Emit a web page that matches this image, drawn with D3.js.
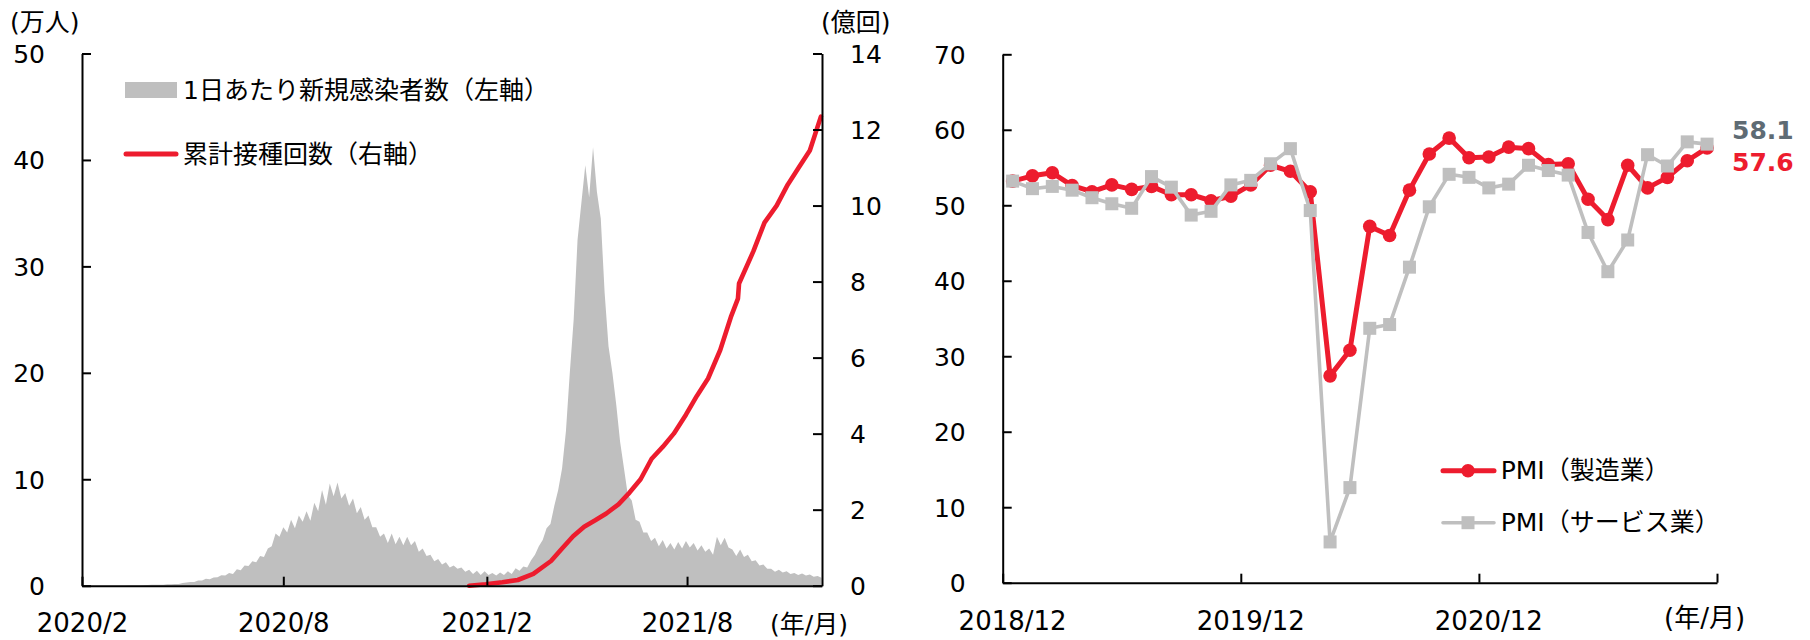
<!DOCTYPE html>
<html><head><meta charset="utf-8">
<script src="https://cdn.jsdelivr.net/npm/d3@7"></script>
<style>
body{margin:0;background:#fff}
svg{display:block}
text{font-family:"DejaVu Sans","Noto Sans CJK JP",sans-serif;font-size:25px;fill:#000}
text.xl{font-size:26px}
</style>
</head><body>
<svg id="c" width="1810" height="640"></svg>
<script>
// ---------- Left panel data ----------
// daily new cases (万人), half-week samples (peak / dip alternating), starting 2020-02-01, every 3.5 days
const caseStart = "2020-02-01";
const caseStepHours = 84;
const newCases = [
  0,0, 0,0, 0,0, 0,0, 0,0, 0,0, 0.01,0.01, 0.03,0.03,
  0.05,0.06, 0.08,0.09, 0.1,0.1, 0.13,0.13, 0.17,0.16, 0.25,0.3, 0.35,0.35, 0.48,0.5,
  0.65,0.6, 0.78,0.8, 0.98,0.95, 1.2,1.1, 1.55,1.45, 1.9,1.85, 2.3,2.2, 2.8,2.7,
  3.5,3.7, 4.9,4.6, 5.5,5.0, 6.2,5.4, 6.6,6.0, 7.0,6.1, 7.8,7.0, 9.0,7.6,
  9.6,8.4, 9.7,8.2, 8.7,7.5, 8.2,6.8, 7.4,6.2, 6.6,5.5, 5.5,4.6, 4.9,4.0,
  4.9,3.9, 4.6,3.8, 4.6,3.8, 4.2,3.2, 3.5,2.8, 2.9,2.3, 2.5,2.0, 2.2,1.7,
  1.9,1.6, 1.7,1.3, 1.5,1.1, 1.4,1.0, 1.35,1.0, 1.2,0.95, 1.25,1.0, 1.35,1.1,
  1.65,1.4, 1.8,1.7, 2.4,2.9, 3.7,4.3, 5.4,5.8, 7.5,9.0, 11.0,14.5, 20.0,25.0,
  32.5,36.0, 39.5,36.5, 41.2,37.0, 34.5,27.5, 22.5,20.0, 17.0,13.5, 11.0,8.5, 8.0,6.2,
  6.0,5.0, 5.0,4.2, 4.5,3.7, 4.3,3.5, 4.0,3.4, 4.1,3.5, 4.2,3.6, 4.0,3.3,
  3.8,3.2, 3.5,2.9, 4.6,3.8, 4.5,3.6, 3.4,2.8, 3.4,2.7, 2.9,2.3, 2.4,1.9,
  2.0,1.6, 1.6,1.3, 1.5,1.25, 1.35,1.1, 1.2,1.0, 1.15,0.95, 1.05,0.85, 0.9,0.75
];
// cumulative vaccinations (億回)
const vaxDates = ["2021-01-16","2021-01-31","2021-02-15","2021-03-01","2021-03-15","2021-03-31",
  "2021-04-10","2021-04-20","2021-04-30","2021-05-10","2021-05-20","2021-05-31","2021-06-10",
  "2021-06-20","2021-06-30","2021-07-10","2021-07-20","2021-07-31","2021-08-10","2021-08-20",
  "2021-08-31","2021-09-10","2021-09-16","2021-09-17","2021-09-30","2021-10-10","2021-10-21",
  "2021-10-31","2021-11-10","2021-11-20","2021-11-30"];
const vaxValues = [0,0.04,0.09,0.15,0.31,0.65,0.98,1.30,1.55,1.72,1.90,2.14,2.45,2.80,3.34,3.65,
  4.0,4.5,5.0,5.45,6.2,7.1,7.55,7.95,8.8,9.55,10.0,10.55,11.0,11.45,12.34];
const leftYTicks = [0,10,20,30,40,50];
const rightYTicks = [0,2,4,6,8,10,12,14];
const leftXTicks = ["2020-02-01","2020-08-01","2021-02-01","2021-08-01"];
const leftXLabels = ["2020/2","2020/8","2021/2","2021/8"];
const leftLegend = ["1日あたり新規感染者数（左軸）","累計接種回数（右軸）"];

// ---------- Right panel data ----------
const pmiMonths = ["2018/12","2019/1","2019/2","2019/3","2019/4","2019/5","2019/6","2019/7","2019/8",
  "2019/9","2019/10","2019/11","2019/12","2020/1","2020/2","2020/3","2020/4","2020/5","2020/6",
  "2020/7","2020/8","2020/9","2020/10","2020/11","2020/12","2021/1","2021/2","2021/3","2021/4",
  "2021/5","2021/6","2021/7","2021/8","2021/9","2021/10","2021/11"];
const pmiManufacturing = [53.2,53.9,54.3,52.6,51.8,52.7,52.1,52.5,51.4,51.4,50.6,51.2,52.7,55.3,54.5,
  51.8,27.4,30.8,47.2,46.0,52.0,56.8,58.9,56.3,56.4,57.7,57.5,55.4,55.5,50.8,48.1,55.3,52.3,53.7,55.9,57.6];
const pmiServices = [53.2,52.2,52.5,52.0,51.0,50.2,49.6,53.8,52.4,48.7,49.2,52.7,53.3,55.5,57.5,
  49.3,5.4,12.6,33.7,34.2,41.8,49.8,54.1,53.7,52.3,52.8,55.3,54.6,54.0,46.4,41.2,45.4,56.7,55.2,58.4,58.1];
const pmiYTicks = [0,10,20,30,40,50,60,70];
const pmiXLabels = ["2018/12","2019/12","2020/12"];
const pmiLegend = ["PMI（製造業）","PMI（サービス業）"];

const RED = "#ED1C2E", GRAY = "#BFBFBF", SLATE = "#5E6B74";
const svg = d3.select("#c");

// ===== Left panel =====
const L = {x0:82, x1:822, y0:585.7, y1:53.5};
const xL = d3.scaleTime().domain([new Date(2020,1,1), new Date(2021,11,1)]).range([L.x0, L.x1]);
const yL = d3.scaleLinear().domain([0,50]).range([L.y0, L.y1]);
const yR = d3.scaleLinear().domain([0,14]).range([L.y0, L.y1]);
const start = d3.timeParse("%Y-%m-%d")(caseStart);
const caseData = newCases.map((v,i)=>({d:d3.timeHour.offset(start, i*caseStepHours), v}));

svg.append("path").datum(caseData)
  .attr("fill", GRAY)
  .attr("d", d3.area().x(d=>xL(d.d)).y0(yL(0)).y1(d=>yL(d.v)));

const parse = d3.timeParse("%Y-%m-%d");
const vaxData = vaxDates.map((d,i)=>({d:parse(d), v:vaxValues[i]}));
svg.append("path").datum(vaxData)
  .attr("fill","none").attr("stroke",RED).attr("stroke-width",4.6)
  .attr("stroke-linejoin","round").attr("stroke-linecap","round")
  .attr("d", d3.line().x(d=>xL(d.d)).y(d=>yR(d.v)));

function styleAxis(g){
  g.attr("font-size",null).attr("font-family",null);
  g.selectAll("path,line").attr("stroke","#000").attr("stroke-width",2);
}
svg.append("g").attr("transform",`translate(${L.x0},0)`)
  .call(d3.axisLeft(yL).tickValues(leftYTicks).tickSize(-9).tickSizeOuter(0).tickPadding(37))
  .call(styleAxis).selectAll("text").attr("dy","0.36em");
svg.append("g").attr("transform",`translate(${L.x1},0)`)
  .call(d3.axisRight(yR).tickValues(rightYTicks).tickSize(-9).tickSizeOuter(0).tickPadding(28))
  .call(styleAxis).selectAll("text").attr("dy","0.36em");
svg.append("g").attr("transform",`translate(0,${L.y0})`)
  .call(d3.axisBottom(xL).tickValues(leftXTicks.map(parse)).tickSize(-9).tickSizeOuter(0)
    .tickFormat((d,i)=>leftXLabels[i]))
  .call(styleAxis).selectAll("text").attr("class","xl").attr("y",46).attr("dy",null);

svg.append("text").attr("x",10).attr("y",22).attr("dominant-baseline","central").text("(万人)");
svg.append("text").attr("x",821).attr("y",22).attr("dominant-baseline","central").text("(億回)");
svg.append("text").attr("x",770).attr("y",624).attr("dominant-baseline","central").text("(年/月)");

// legend
svg.append("rect").attr("x",125).attr("y",82).attr("width",52).attr("height",16).attr("fill",GRAY);
svg.append("text").attr("x",183).attr("y",90).attr("dominant-baseline","central").text(leftLegend[0]);
svg.append("line").attr("x1",126).attr("x2",176).attr("y1",154).attr("y2",154)
  .attr("stroke",RED).attr("stroke-width",5).attr("stroke-linecap","round");
svg.append("text").attr("x",183).attr("y",154).attr("dominant-baseline","central").text(leftLegend[1]);

// ===== Right panel =====
const R = {x0:1002.7, x1:1717, y0:582.7, y1:54.3};
const xP = d3.scaleBand().domain(pmiMonths).range([R.x0, R.x1]).padding(0);
const xPIdx = d3.scaleLinear().domain([0, pmiMonths.length]).range([R.x0, R.x1]);
const yP = d3.scaleLinear().domain([0,70]).range([R.y0, R.y1]);
const cx = m => xP(m) + xP.bandwidth()/2;

svg.append("g").attr("transform",`translate(${R.x0},0)`)
  .call(d3.axisLeft(yP).tickValues(pmiYTicks).tickSize(-9).tickSizeOuter(0).tickPadding(37))
  .call(styleAxis).selectAll("text").attr("dy","0.36em");
svg.append("g").attr("transform",`translate(0,${R.y0})`)
  .call(d3.axisBottom(xPIdx).tickValues([0,12,24,36]).tickSize(-9).tickSizeOuter(0).tickFormat(""))
  .call(styleAxis);
svg.append("g").selectAll("text").data(pmiXLabels).join("text").attr("class","xl")
  .attr("x",d=>cx(d)).attr("y",630).attr("text-anchor","middle").text(d=>d);
svg.append("text").attr("class","xl").attr("x",1664).attr("y",618).attr("dominant-baseline","central").text("(年/月)");

const pline = d3.line().x((d,i)=>cx(pmiMonths[i])).y(d=>yP(d));
svg.append("path").datum(pmiManufacturing).attr("fill","none").attr("stroke",RED)
  .attr("stroke-width",5).attr("stroke-linejoin","round").attr("d",pline);
svg.append("g").selectAll("circle").data(pmiManufacturing).join("circle")
  .attr("cx",(d,i)=>cx(pmiMonths[i])).attr("cy",d=>yP(d)).attr("r",6.8).attr("fill",RED);
svg.append("path").datum(pmiServices).attr("fill","none").attr("stroke",GRAY)
  .attr("stroke-width",3.6).attr("stroke-linejoin","round").attr("d",pline);
svg.append("g").selectAll("rect").data(pmiServices).join("rect")
  .attr("x",(d,i)=>cx(pmiMonths[i])-6.5).attr("y",d=>yP(d)-6.5)
  .attr("width",13).attr("height",13).attr("fill",GRAY);

const last = pmiMonths.length-1;
svg.append("text").attr("x",cx(pmiMonths[last])+25).attr("y",yP(pmiServices[last])-14)
  .attr("dominant-baseline","central").style("font-weight","bold").style("fill",SLATE)
  .text(pmiServices[last].toFixed(1));
svg.append("text").attr("x",cx(pmiMonths[last])+25).attr("y",yP(pmiManufacturing[last])+15)
  .attr("dominant-baseline","central").style("font-weight","bold").style("fill",RED)
  .text(pmiManufacturing[last].toFixed(1));

// legend
svg.append("line").attr("x1",1443).attr("x2",1494).attr("y1",470.7).attr("y2",470.7)
  .attr("stroke",RED).attr("stroke-width",5).attr("stroke-linecap","round");
svg.append("circle").attr("cx",1468).attr("cy",470.7).attr("r",6.8).attr("fill",RED);
svg.append("text").attr("x",1500.7).attr("y",470.7).attr("dominant-baseline","central").text(pmiLegend[0]);
svg.append("line").attr("x1",1443).attr("x2",1494).attr("y1",522.7).attr("y2",522.7)
  .attr("stroke",GRAY).attr("stroke-width",3.6).attr("stroke-linecap","round");
svg.append("rect").attr("x",1461.5).attr("y",516.2).attr("width",13).attr("height",13).attr("fill",GRAY);
svg.append("text").attr("x",1500.7).attr("y",522.7).attr("dominant-baseline","central").text(pmiLegend[1]);
</script>
</body></html>
